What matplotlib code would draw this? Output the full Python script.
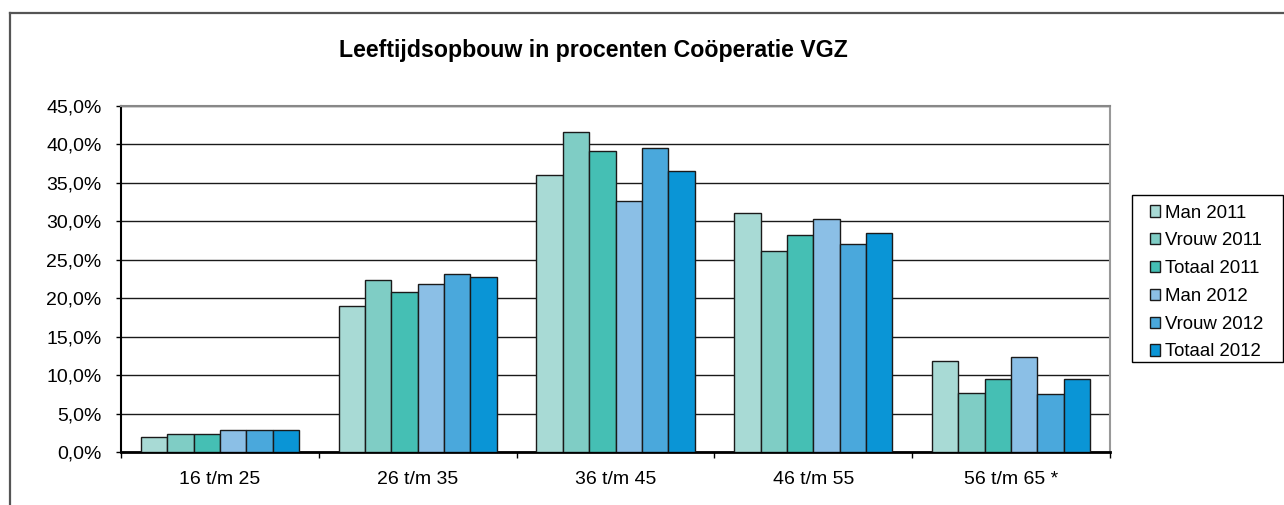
import matplotlib
matplotlib.use("Agg")
import matplotlib.pyplot as plt
from matplotlib.lines import Line2D
from matplotlib.patches import Rectangle
from matplotlib.ticker import FuncFormatter, MultipleLocator
import numpy as np

plt.rcParams['font.family'] = ['Liberation Sans', 'DejaVu Sans']

categories = ["16 t/m 25", "26 t/m 35", "36 t/m 45", "46 t/m 55", "56 t/m 65 *"]
series_names = ["Man 2011", "Vrouw 2011", "Totaal 2011", "Man 2012", "Vrouw 2012", "Totaal 2012"]
man_2011 = [2.0, 19.0, 36.0, 31.1, 11.9]
vrouw_2011 = [2.3, 22.4, 41.6, 26.1, 7.7]
totaal_2011 = [2.3, 20.8, 39.2, 28.2, 9.5]
man_2012 = [2.8, 21.9, 32.7, 30.3, 12.4]
vrouw_2012 = [2.8, 23.2, 39.5, 27.1, 7.5]
totaal_2012 = [2.8, 22.7, 36.6, 28.5, 9.5]
series_values = [man_2011, vrouw_2011, totaal_2011, man_2012, vrouw_2012, totaal_2012]
colors = ["#A8DAD5", "#7FCDC5", "#45BFB4", "#8BBFE6", "#4AA8DC", "#0A95D6"]
title = "Leeftijdsopbouw in procenten Coöperatie VGZ"

W, H = 1284, 505
fig = plt.figure(figsize=(W/100, H/100), dpi=100)
ax = fig.add_axes([121/W, 1-452/H, (1110-121)/W, (452-106)/H])

n = len(series_names)
group_w = 0.8
bw = group_w / n
x = np.arange(len(categories))
for i, (name, vals, c) in enumerate(zip(series_names, series_values, colors)):
    ax.bar(x - group_w/2 + bw*(i+0.5), vals, width=bw, color=c,
           edgecolor='#1a1a1a', linewidth=1.0, label=name, zorder=3)

ax.set_xlim(-0.5, len(categories)-0.5)
ax.set_ylim(0, 45)
ax.yaxis.set_major_locator(MultipleLocator(5))
ax.yaxis.set_major_formatter(FuncFormatter(lambda v, p: f"{v:.1f}%".replace('.', ',')))
ax.grid(axis='y', color='#1a1a1a', linewidth=1.0, zorder=0)
ax.set_axisbelow(True)

ax.set_xticks(np.arange(len(categories)+1) - 0.5)
ax.set_xticklabels([])
ax.set_xticks(x, minor=True)
ax.set_xticklabels(categories, minor=True)
ax.tick_params(axis='x', which='major', direction='out', length=4.3, width=1, color='black')
ax.tick_params(axis='x', which='minor', length=0, labelsize=14, pad=13.5)
ax.tick_params(axis='y', direction='out', length=3.6, width=1, labelsize=14, pad=10.5, color='black')

ax.spines['left'].set_color('black')
ax.spines['left'].set_linewidth(1.5)
ax.spines['bottom'].set_color('black')
ax.spines['bottom'].set_linewidth(2.0)
ax.spines['top'].set_color('#888888')
ax.spines['top'].set_linewidth(1.5)
ax.spines['right'].set_color('#999999')
ax.spines['right'].set_linewidth(1.5)

fig.text(593/W, 1-50/H, title, ha='center', va='center', fontsize=16.7, fontweight='bold')

leg = fig.legend(loc='center left', bbox_to_anchor=(1149.5/W, 1-282.5/H),
                 fontsize=13.4, frameon=False,
                 handlelength=0.55, handleheight=0.55, handletextpad=0.3,
                 labelspacing=0.58, borderpad=0, borderaxespad=0)

# legend frame
fig.add_artist(Rectangle((1131.5/W, 1-362/H), (1283-1131.5)/W, (362-195)/H,
                         transform=fig.transFigure, fill=False,
                         edgecolor='black', linewidth=1.0))

# outer chart border (top and left edges)
fig.add_artist(Line2D([9.5/W, 1.0], [1-12.5/H, 1-12.5/H], transform=fig.transFigure,
                      color='#555555', linewidth=1.6))
fig.add_artist(Line2D([9.5/W, 9.5/W], [0.0, 1-12.5/H], transform=fig.transFigure,
                      color='#555555', linewidth=1.6))

fig.savefig("out.png", dpi=100)
